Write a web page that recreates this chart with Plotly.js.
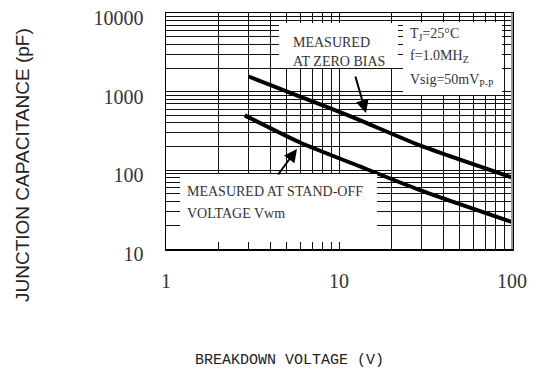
<!DOCTYPE html>
<html><head><meta charset="utf-8">
<script src="https://cdn.plot.ly/plotly-3.0.1.min.js"></script>
<style>html,body{margin:0;padding:0;background:#fff}#chart{width:536px;height:385px}</style>
</head><body><div id="chart"></div>
<script>
// Data
const zeroBiasVoltage = [3, 6, 11.3, 29.4, 100];
const zeroBiasCapacitance = [1560, 860, 500, 207, 81];
const standOffVoltage = [2.85, 5.95, 13.2, 29.4, 100];
const standOffCapacitance = [500, 226, 112, 56, 22];

const xDecades = [1, 10, 100];
const yDecades = [10, 100, 1000, 10000];
const xTickText = ['1', '10', '100'];
const yTickText = ['10', '100', '1000', '10000'];

function gridVals(decades) {
  const v = [];
  decades.forEach((d, i) => {
    if (i < decades.length - 1) { for (let k = 1; k < 10; k++) v.push(d * k); }
    else v.push(d);
  });
  return v;
}
function gridText(decades, labels) {
  return gridVals(decades).map(v => {
    const i = decades.indexOf(v);
    return i >= 0 ? labels[i] : '';
  });
}

const serif = 'Liberation Serif, Times New Roman, serif';
const lineStyle = {color: '#000', width: 4, shape: 'spline', smoothing: 0.6};

const traces = [
  {x: zeroBiasVoltage, y: zeroBiasCapacitance, mode: 'lines', line: lineStyle, hoverinfo: 'skip', name: 'zero bias'},
  {x: standOffVoltage, y: standOffCapacitance, mode: 'lines', line: lineStyle, hoverinfo: 'skip', name: 'stand-off'}
];

function px2paperX(p) { return (p - 166) / 346; }
function px2paperY(p) { return (249 - p) / 236; }

function box(x0, x1, y0, y1) {
  return {type: 'rect', xref: 'paper', yref: 'paper', layer: 'above',
    x0: px2paperX(x0), x1: px2paperX(x1), y0: px2paperY(y1), y1: px2paperY(y0),
    fillcolor: '#fff', line: {width: 0}};
}

function label(text, px, py) {
  return {text: text, xref: 'paper', yref: 'paper', x: px2paperX(px), y: px2paperY(py),
    xanchor: 'left', yanchor: 'middle', showarrow: false, align: 'left',
    font: {family: serif, size: 14, color: '#333'}};
}

const layout = {
  width: 536, height: 385,
  margin: {l: 166, r: 24, t: 13, b: 136},
  paper_bgcolor: '#fff', plot_bgcolor: '#fff',
  showlegend: false,
  xaxis: {
    type: 'log', range: [-0.0005, 2.0005],
    tickmode: 'array', tickvals: gridVals(xDecades), ticktext: gridText(xDecades, xTickText),
    tickangle: 0,
    showgrid: true, gridcolor: '#111', gridwidth: 1, zeroline: false,
    showline: true, linecolor: '#000', linewidth: 1.5, mirror: true,
    ticks: '', ticklabelstandoff: 13,
    tickfont: {family: serif, size: 20, color: '#333'}
  },
  yaxis: {
    type: 'log', range: [0.9995, 4.0005],
    tickmode: 'array', tickvals: gridVals(yDecades), ticktext: gridText(yDecades, yTickText),
    showgrid: true, gridcolor: '#111', gridwidth: 1, zeroline: false,
    showline: true, linecolor: '#000', linewidth: 1.5, mirror: true,
    ticks: '', ticklabelstandoff: 17, ticklabelshift: 5,
    tickfont: {family: serif, size: 20, color: '#333'}
  },
  shapes: [
    box(279, 398, 23, 68),
    box(403, 502, 22, 95),
    box(180, 377, 174, 242),
    {type: 'line', xref: 'paper', yref: 'paper', x0: 1, x1: 1, y0: 0, y1: 1, line: {color: '#999', width: 2}, layer: 'above'}
  ],
  annotations: [
    label('MEASURED', 291, 42.5),
    label('AT ZERO BIAS', 291, 61.5),
    label('T<sub>J</sub>=25\u00B0C', 408, 34),
    label('f=1.0MH<sub>Z</sub>', 408, 57),
    label('Vsig=50mV<sub>P-P</sub>', 408, 80),
    label('MEASURED AT STAND-OFF', 185, 191),
    label('VOLTAGE Vwm', 185, 213),
    {x: 1.156, y: 2.729, xref: 'x', yref: 'y', ax: -11, ay: -38, text: '', showarrow: true,
      arrowhead: 2, arrowsize: 1.3, arrowwidth: 2, arrowcolor: '#000'},
    {x: 0.757, y: 2.271, xref: 'x', yref: 'y', ax: -20, ay: 27, text: '', showarrow: true,
      arrowhead: 2, arrowsize: 1.3, arrowwidth: 2, arrowcolor: '#000'},
    {text: 'JUNCTION CAPACITANCE (pF)', xref: 'paper', yref: 'paper', x: px2paperX(22), y: px2paperY(165),
      xanchor: 'center', yanchor: 'middle', textangle: -90, showarrow: false,
      font: {family: 'Liberation Sans, Arial, sans-serif', size: 19, color: '#222'}},
    {text: 'BREAKDOWN VOLTAGE (V)', xref: 'paper', yref: 'paper', x: px2paperX(289), y: px2paperY(360),
      xanchor: 'center', yanchor: 'middle', showarrow: false,
      font: {family: 'Liberation Mono, DejaVu Sans Mono, monospace', size: 15, color: '#222'}}
  ]
};

Plotly.newPlot('chart', traces, layout, {staticPlot: true, displayModeBar: false});
</script>
</body></html>
